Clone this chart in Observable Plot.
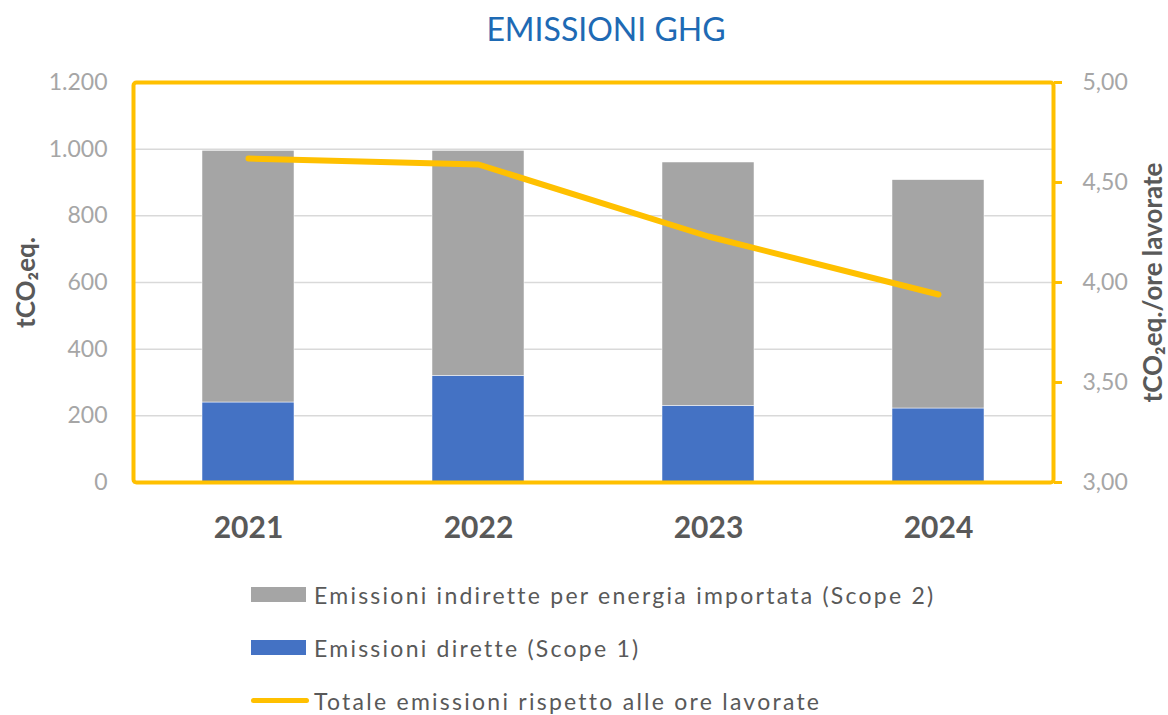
<!DOCTYPE html>
<html><head><meta charset="utf-8">
<script src="https://cdn.jsdelivr.net/npm/d3@7"></script>
<script src="https://cdn.jsdelivr.net/npm/@observablehq/plot@0.6"></script>
<style>
body{margin:0;background:#fff;font-family:Lato,"Open Sans",sans-serif;width:1168px;}
#title{height:60px;line-height:58px;margin-left:44px;width:1124px;text-align:center;font-size:32px;color:#1E6AB4;}
#chart svg{display:block;}
#legend{padding-top:8px;padding-left:251px;}
.row{height:53px;display:flex;align-items:center;font-size:23px;color:#595959;letter-spacing:2.25px;}
.sw{display:inline-block;width:55px;height:15px;margin-right:8px;}
.ln{display:inline-block;width:58px;height:5px;border-radius:3px;margin-right:5px;}
</style></head><body>
<div id="title">EMISSIONI GHG</div>
<div id="chart"></div>
<div id="legend"></div>
<script>
const years = ["2021", "2022", "2023", "2024"];
const scope1 = [240, 320, 230, 222];          // Emissioni dirette (Scope 1)
const scope2 = [755, 675, 730, 685];          // Emissioni indirette (Scope 2)
const intensity = [4.62, 4.59, 4.23, 3.94];   // tCO2eq./ore lavorate
const leftTicks = [0, 200, 400, 600, 800, 1000, 1200];
const rightTicks = [3, 3.5, 4, 4.5, 5];
const seriesNames = ["Emissioni indirette per energia importata (Scope 2)", "Emissioni dirette (Scope 1)", "Totale emissioni rispetto alle ore lavorate"];
const colors = {s1: "#4472C4", s2: "#A5A5A5", line: "#FFC000"};

const it = d3.formatLocale({decimal: ",", thousands: ".", grouping: [3], currency: ["€", ""]});
const fmtL = it.format(",.0f");
const fmtR = it.format(".2f");
const toLeft = v => (v - 3) * 600;

const bars = [];
years.forEach((y, i) => {
  bars.push({year: y, series: "Scope 1", value: scope1[i]});
  bars.push({year: y, series: "Scope 2", value: scope2[i]});
});
const lineData = years.map((y, i) => ({year: y, v: intensity[i]}));

const chart = Plot.plot({
  width: 1168, height: 500,
  marginTop: 22, marginBottom: 78, marginLeft: 133, marginRight: 115,
  style: {fontFamily: "Lato, 'Open Sans', sans-serif", background: "#fff"},
  x: {domain: years, paddingInner: 0.6, paddingOuter: 0.3},
  y: {domain: [0, 1200]},
  color: {domain: ["Scope 1", "Scope 2"], range: [colors.s1, colors.s2]},
  marks: [
    Plot.gridY(leftTicks, {stroke: "#D9D9D9", strokeOpacity: 1, strokeWidth: 1.5}),
    Plot.barY(bars, {x: "year", y: "value", fill: "series", order: ["Scope 1", "Scope 2"], stroke: "#fff", strokeWidth: 0.5}),
    Plot.ruleY([0], {stroke: "#D9D9D9", strokeWidth: 2}),
    Plot.frame({stroke: colors.line, strokeWidth: 4, rx: 3}),
    Plot.line(lineData, {x: "year", y: d => toLeft(d.v), stroke: colors.line, strokeWidth: 6, strokeLinecap: "round", strokeLinejoin: "round"}),
    Plot.axisY(leftTicks, {anchor: "left", tickSize: 0, tickPadding: 26, tickFormat: fmtL, fontSize: 23, color: "#A6A6A6", fill: "#A6A6A6", label: null}),
    Plot.axisY(rightTicks.map(toLeft), {anchor: "right", tickSize: 8, stroke: colors.line, strokeWidth: 3, tickPadding: 21, tickFormat: d => fmtR(d / 600 + 3), fill: "#A6A6A6", fontSize: 23, label: null}),
    Plot.axisX({tickSize: 0, tickPadding: 34, fontSize: 30, fontWeight: "bold", color: "#595959", fill: "#595959", label: null}),
    Plot.text(["tCO₂eq."], {frameAnchor: "left", textAnchor: "middle", dx: -107, rotate: -90, fontSize: 26, fontWeight: "bold", fill: "#595959"}),
    Plot.text(["tCO₂eq./ore lavorate"], {frameAnchor: "right", textAnchor: "middle", dx: 100, rotate: -90, fontSize: 26, fontWeight: "bold", fill: "#595959"})
  ]
});
document.getElementById("chart").appendChild(chart);

const leg = document.getElementById("legend");
const items = [
  {name: seriesNames[0], color: colors.s2, type: "sw"},
  {name: seriesNames[1], color: colors.s1, type: "sw"},
  {name: seriesNames[2], color: colors.line, type: "ln"}
];
items.forEach(d => {
  const r = document.createElement("div");
  r.className = "row";
  const s = document.createElement("span");
  s.className = d.type;
  s.style.background = d.color;
  r.appendChild(s);
  const t = document.createElement("span");
  t.textContent = d.name;
  r.appendChild(t);
  leg.appendChild(r);
});
</script>
</body></html>
